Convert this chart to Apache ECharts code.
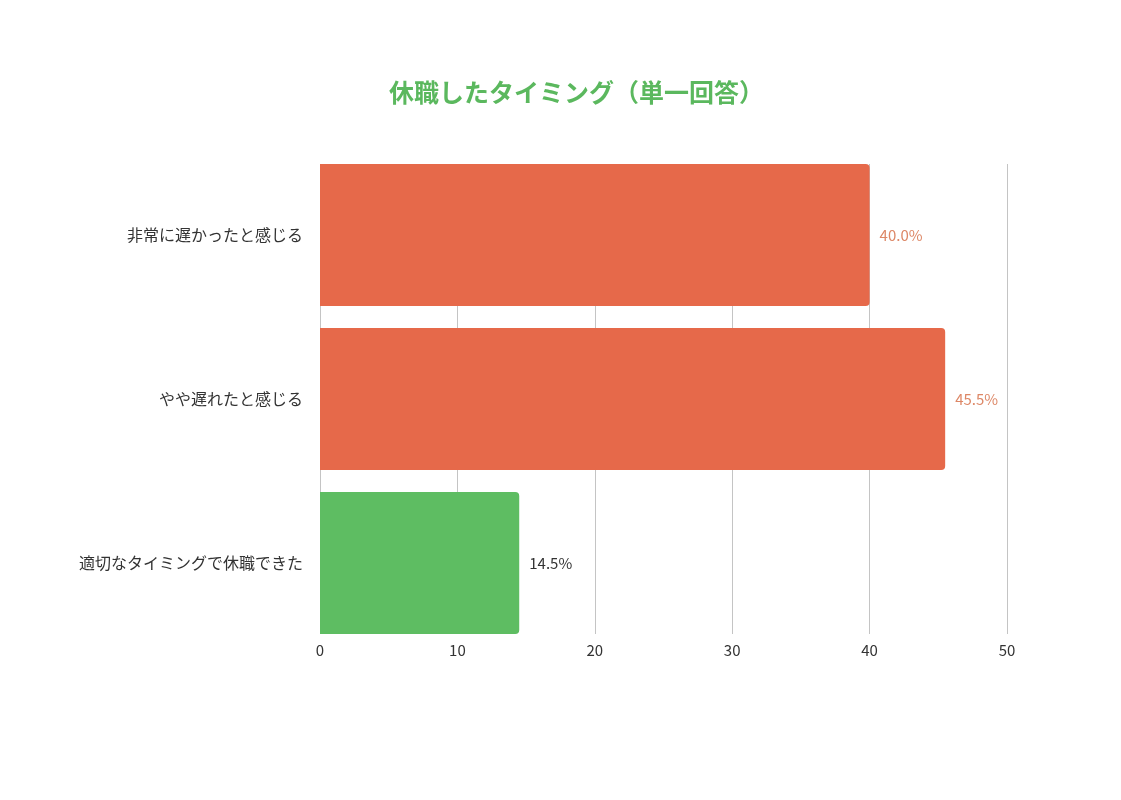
<!DOCTYPE html>
<html lang="ja">
<head>
<meta charset="UTF-8">
<title>休職したタイミング</title>
<script src="https://cdn.jsdelivr.net/npm/echarts@6/dist/echarts.min.js"></script>
<style>
    html,body{margin:0;padding:0;background:#fff;}
    #main{width:1121px;height:800px;}
</style>
</head>
<body>
<div id="main"></div>
<script>
// データ
var categories = ['非常に遅かったと感じる', 'やや遅れたと感じる', '適切なタイミングで休職できた'];
var values = [40.0, 45.5, 14.5];
var barColors = ['#E6694A', '#E6694A', '#5EBD62'];
var labelColors = ['#DD8766', '#DD8766', '#333333'];
var xTicks = [0, 10, 20, 30, 40, 50];

var font = '"Noto Sans CJK JP", "Noto Sans", sans-serif';

var chart = echarts.init(document.getElementById('main'));
var option = {
    backgroundColor: '#ffffff',
    animation: false,
    title: {
        text: '休職したタイミング（単一回答）',
        left: 384,
        top: 75,
        textStyle: {color: '#5BB85E', fontSize: 25, fontWeight: 'bold', fontFamily: font}
    },
    grid: [
        // 目盛り線用
        {left: 320, right: 114, top: 164, bottom: 166},
        // 棒グラフ用
        {left: 320, right: 114, top: 153, bottom: 155}
    ],
    xAxis: [
        {
            gridIndex: 0, type: 'value', min: xTicks[0], max: xTicks[xTicks.length - 1], interval: 10,
            axisLine: {show: false}, axisTick: {show: false},
            splitLine: {show: true, lineStyle: {color: '#C4C4C4', width: 1}},
            axisLabel: {color: '#333', fontSize: 15, margin: 9, fontFamily: font}
        },
        {
            gridIndex: 1, type: 'value', min: 0, max: 50, show: false
        }
    ],
    yAxis: [
        {gridIndex: 0, type: 'category', data: categories, inverse: true, show: false},
        {
            gridIndex: 1, type: 'category', data: categories, inverse: true,
            axisLine: {show: false}, axisTick: {show: false},
            axisLabel: {color: '#333', fontSize: 16, margin: 17, fontFamily: font}
        }
    ],
    series: [{
        type: 'bar',
        xAxisIndex: 1,
        yAxisIndex: 1,
        barWidth: 142,
        data: values.map(function (v, i) {
            return {
                value: v,
                itemStyle: {color: barColors[i], borderRadius: [0, 4, 4, 0]},
                label: {color: labelColors[i]}
            };
        }),
        label: {
            show: true,
            position: 'right',
            distance: 10,
            fontSize: 15,
            fontFamily: font,
            formatter: function (p) { return p.value.toFixed(1) + '%'; }
        }
    }]
};
chart.setOption(option);
</script>
</body>
</html>
